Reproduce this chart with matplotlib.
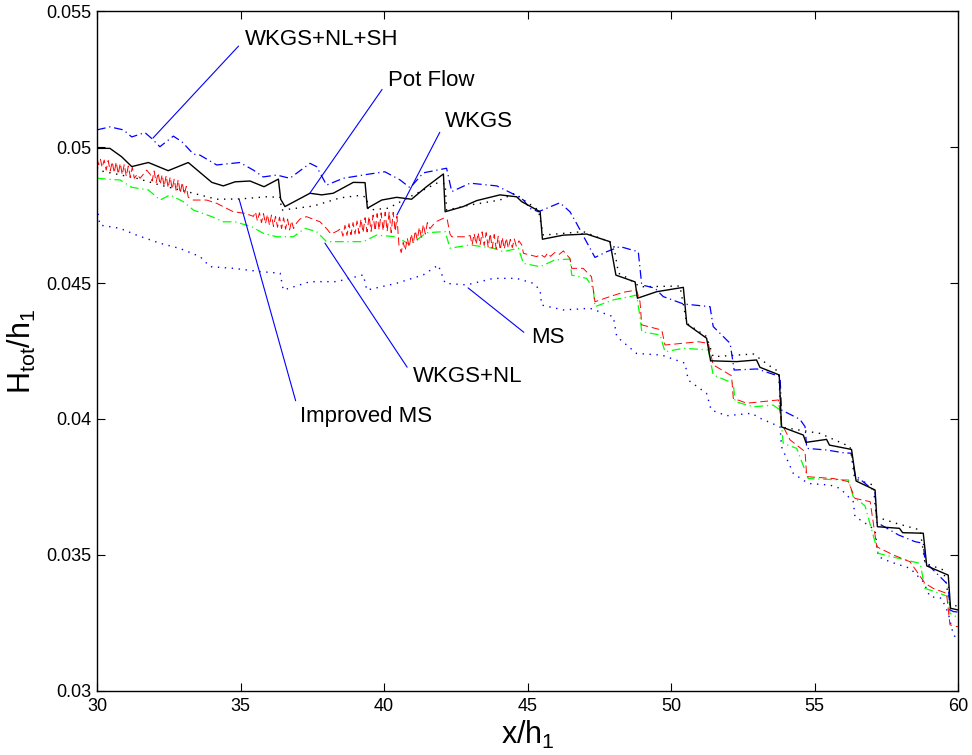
import matplotlib
matplotlib.use('Agg')
import matplotlib.pyplot as plt

plt.rcParams['font.family'] = ['Liberation Sans', 'DejaVu Sans']
plt.rcParams['mathtext.fontset'] = 'custom'
plt.rcParams['mathtext.rm'] = 'Liberation Sans'
plt.rcParams['mathtext.it'] = 'Liberation Sans'

# Pot Flow (black solid)
pot_x = [30.00, 30.45, 30.86, 31.21, 31.79, 32.48, 33.18, 34.00, 34.40, 34.81, 35.33, 35.82,
         36.32, 36.40, 36.55, 37.42, 37.83, 38.23, 38.93, 39.34, 39.42, 39.92, 40.44, 40.96,
         41.48, 42.07, 42.13, 42.76, 43.23, 44.04, 44.62, 44.80, 45.44, 45.52, 46.25, 47.06,
         47.87, 48.08, 48.75, 48.83, 49.50, 50.43, 50.55, 51.24, 51.38, 52.29, 52.98, 53.10,
         53.77, 53.85, 54.61, 54.70, 55.42, 55.52, 56.29, 56.45, 57.11, 57.19, 57.96, 58.07,
         58.79, 58.91, 59.66, 59.74, 60.00]
pot_y = [0.04995, 0.04995, 0.04964, 0.04928, 0.04943, 0.04913, 0.04943, 0.04870, 0.04857, 0.04872,
         0.04875, 0.04854, 0.04882, 0.04808, 0.04781, 0.04830, 0.04824, 0.04830, 0.04870, 0.04869,
         0.04775, 0.04805, 0.04815, 0.04808, 0.04854, 0.04901, 0.04762, 0.04781, 0.04803, 0.04824,
         0.04817, 0.04799, 0.04762, 0.04661, 0.04676, 0.04680, 0.04652, 0.04529, 0.04504, 0.04444,
         0.04468, 0.04484, 0.04349, 0.04297, 0.04214, 0.04211, 0.04217, 0.04190, 0.04162, 0.03971,
         0.03941, 0.03914, 0.03925, 0.03904, 0.03888, 0.03772, 0.03739, 0.03604, 0.03598, 0.03582,
         0.03580, 0.03460, 0.03426, 0.03304, 0.03298]

# WKGS (red, oscillating)
wkgs_x = [30.00, 30.06, 30.12, 30.18, 30.25, 30.32, 30.39, 30.46, 30.53, 30.60, 30.67, 30.74,
          30.81, 30.88, 30.95, 31.02, 31.09, 31.16, 31.23, 31.30, 31.40, 31.50, 31.73, 31.85,
          31.92, 31.99, 32.06, 32.13, 32.20, 32.27, 32.34, 32.41, 32.48, 32.55, 32.62, 32.69,
          32.76, 32.83, 32.90, 32.97, 33.04, 33.11, 33.18, 33.36, 33.82, 34.17, 34.75, 35.16,
          35.45, 35.52, 35.59, 35.66, 35.73, 35.80, 35.87, 35.94, 36.01, 36.08, 36.15, 36.22,
          36.29, 36.36, 36.43, 36.50, 36.57, 36.64, 36.71, 36.78, 36.85, 36.95, 37.07, 37.30,
          37.77, 38.00, 38.15, 38.35, 38.50, 38.57, 38.64, 38.71, 38.78, 38.85, 38.92, 38.99,
          39.06, 39.13, 39.20, 39.27, 39.34, 39.41, 39.48, 39.55, 39.62, 39.69, 39.76, 39.83,
          39.90, 39.97, 40.04, 40.11, 40.18, 40.25, 40.32, 40.39, 40.45, 40.52, 40.60, 40.67,
          40.74, 40.81, 40.88, 40.95, 41.02, 41.09, 41.16, 41.23, 41.30, 41.37, 41.44, 41.51,
          41.60, 41.80, 42.07, 42.20, 42.30, 42.36, 42.88, 43.00, 43.07, 43.14, 43.21, 43.28,
          43.35, 43.42, 43.49, 43.56, 43.63, 43.70, 43.77, 43.84, 43.91, 43.98, 44.05, 44.12,
          44.19, 44.26, 44.33, 44.40, 44.47, 44.54, 44.61, 44.70, 44.80, 44.86, 45.32, 45.45,
          45.60, 45.70, 45.80, 45.95, 46.10, 46.25, 46.48, 46.54, 46.94, 47.23, 47.35, 47.87,
          48.34, 48.80, 48.92, 48.98, 49.68, 49.79, 50.96, 51.30, 51.47, 52.11, 52.17, 52.64,
          53.74, 53.85, 54.15, 54.67, 54.73, 55.66, 56.18, 56.41, 56.94, 57.17, 57.75, 58.33,
          58.85, 59.14, 59.60, 59.72, 60.00]
wkgs_y = [0.04958, 0.04935, 0.04955, 0.04925, 0.04952, 0.04915, 0.04950, 0.04912, 0.04946, 0.04905,
          0.04945, 0.04900, 0.04940, 0.04898, 0.04936, 0.04892, 0.04930, 0.04890, 0.04925, 0.04885,
          0.04900, 0.04885, 0.04915, 0.04900, 0.04875, 0.04912, 0.04870, 0.04905, 0.04862, 0.04898,
          0.04855, 0.04895, 0.04850, 0.04890, 0.04845, 0.04882, 0.04838, 0.04880, 0.04830, 0.04870,
          0.04825, 0.04855, 0.04815, 0.04805, 0.04805, 0.04793, 0.04762, 0.04756, 0.04745, 0.04762,
          0.04728, 0.04758, 0.04722, 0.04755, 0.04718, 0.04752, 0.04712, 0.04750, 0.04708, 0.04745,
          0.04705, 0.04742, 0.04700, 0.04740, 0.04698, 0.04735, 0.04695, 0.04728, 0.04700, 0.04720,
          0.04735, 0.04744, 0.04725, 0.04700, 0.04680, 0.04690, 0.04700, 0.04672, 0.04712, 0.04675,
          0.04718, 0.04678, 0.04722, 0.04680, 0.04728, 0.04682, 0.04735, 0.04685, 0.04740, 0.04688,
          0.04745, 0.04690, 0.04750, 0.04692, 0.04755, 0.04695, 0.04758, 0.04692, 0.04760, 0.04690,
          0.04762, 0.04685, 0.04760, 0.04690, 0.04745, 0.04640, 0.04612, 0.04650, 0.04620, 0.04665,
          0.04632, 0.04680, 0.04645, 0.04692, 0.04658, 0.04705, 0.04668, 0.04715, 0.04680, 0.04722,
          0.04700, 0.04725, 0.04738, 0.04735, 0.04680, 0.04670, 0.04670, 0.04675, 0.04640, 0.04682,
          0.04642, 0.04685, 0.04640, 0.04688, 0.04638, 0.04685, 0.04632, 0.04682, 0.04628, 0.04678,
          0.04625, 0.04672, 0.04622, 0.04668, 0.04625, 0.04665, 0.04628, 0.04660, 0.04630, 0.04662,
          0.04635, 0.04655, 0.04640, 0.04609, 0.04597, 0.04605, 0.04595, 0.04610, 0.04598, 0.04612,
          0.04605, 0.04618, 0.04590, 0.04554, 0.04554, 0.04523, 0.04431, 0.04450, 0.04466, 0.04474,
          0.04431, 0.04346, 0.04327, 0.04272, 0.04284, 0.04278, 0.04199, 0.04159, 0.04076, 0.04058,
          0.04070, 0.03984, 0.03923, 0.03880, 0.03788, 0.03781, 0.03770, 0.03708, 0.03696, 0.03530,
          0.03500, 0.03475, 0.03396, 0.03377, 0.03359, 0.03243, 0.03236]

# WKGS+NL (green)
nl_x = [30.00, 30.45, 30.80, 31.21, 31.79, 32.20, 32.54, 33.01, 33.36, 34.00, 34.40, 34.81,
        35.39, 35.79, 36.26, 36.84, 37.25, 37.65, 38.00, 38.58, 39.28, 39.74, 40.44, 40.91,
        41.48, 42.13, 42.30, 43.00, 43.81, 44.16, 44.68, 44.86, 45.44, 45.96, 46.48, 46.54,
        47.06, 47.29, 47.35, 47.99, 48.57, 48.80, 48.92, 48.98, 49.62, 49.79, 50.43, 51.30,
        51.47, 52.17, 52.23, 52.87, 53.56, 53.80, 53.91, 54.38, 54.78, 55.42, 56.18, 56.35,
        56.76, 57.22, 57.92, 58.68, 58.85, 59.20, 59.66, 59.72, 60.00]
nl_y = [0.04885, 0.04881, 0.04879, 0.04852, 0.04842, 0.04805, 0.04824, 0.04799, 0.04768, 0.04744,
        0.04725, 0.04725, 0.04707, 0.04683, 0.04670, 0.04670, 0.04701, 0.04689, 0.04652, 0.04652,
        0.04652, 0.04676, 0.04670, 0.04640, 0.04685, 0.04689, 0.04628, 0.04640, 0.04628, 0.04615,
        0.04628, 0.04572, 0.04560, 0.04585, 0.04588, 0.04529, 0.04517, 0.04480, 0.04413, 0.04438,
        0.04450, 0.04456, 0.04376, 0.04321, 0.04309, 0.04247, 0.04260, 0.04254, 0.04162, 0.04131,
        0.04064, 0.04045, 0.04051, 0.04033, 0.03910, 0.03892, 0.03781, 0.03778, 0.03776, 0.03714,
        0.03681, 0.03506, 0.03488, 0.03469, 0.03377, 0.03365, 0.03347, 0.03285, 0.03270]

# WKGS+NL+SH (blue dash-dot)
sh_x = [30.00, 30.45, 30.92, 31.21, 31.67, 31.90, 32.19, 32.66, 32.95, 33.36, 33.59, 34.17,
        34.98, 35.45, 35.79, 36.26, 36.72, 37.42, 37.65, 38.00, 38.58, 39.45, 40.03, 40.56,
        40.91, 41.37, 42.18, 42.36, 43.00, 43.93, 44.45, 44.86, 45.09, 45.38, 46.13, 46.48,
        46.71, 47.35, 47.76, 48.22, 48.86, 48.98, 49.44, 49.73, 50.43, 51.36, 51.47, 52.06,
        52.20, 53.00, 53.80, 53.85, 54.49, 54.67, 54.73, 55.42, 56.00, 56.29, 56.41, 57.11,
        57.17, 57.92, 58.50, 58.79, 58.85, 59.66, 59.72, 59.84, 60.00]
sh_y = [0.05063, 0.05074, 0.05063, 0.05037, 0.05053, 0.05032, 0.05001, 0.05040, 0.05020, 0.04974,
        0.04970, 0.04934, 0.04943, 0.04915, 0.04890, 0.04897, 0.04885, 0.04940, 0.04928, 0.04860,
        0.04885, 0.04900, 0.04909, 0.04879, 0.04850, 0.04905, 0.04922, 0.04836, 0.04867, 0.04857,
        0.04830, 0.04805, 0.04774, 0.04762, 0.04795, 0.04762, 0.04719, 0.04594, 0.04615, 0.04634,
        0.04615, 0.04493, 0.04481, 0.04450, 0.04423, 0.04413, 0.04340, 0.04278, 0.04180, 0.04184,
        0.04156, 0.04033, 0.03999, 0.03972, 0.03892, 0.03886, 0.03876, 0.03874, 0.03794, 0.03733,
        0.03620, 0.03574, 0.03549, 0.03543, 0.03475, 0.03390, 0.03298, 0.03292, 0.03290]

# MS (blue dotted)
ms_x = [30.00, 30.10, 30.80, 31.38, 32.20, 32.89, 33.59, 33.94, 34.75, 35.68, 36.38, 36.49,
        37.42, 38.35, 39.28, 39.40, 40.44, 41.37, 41.89, 42.13, 42.88, 43.81, 44.62, 45.20,
        45.44, 45.49, 46.25, 47.18, 47.99, 48.11, 48.80, 49.68, 50.49, 50.60, 51.24, 51.40,
        51.94, 52.81, 53.10, 53.80, 53.85, 54.26, 54.78, 55.54, 55.89, 56.35, 56.41, 56.70,
        57.11, 57.22, 57.63, 58.33, 58.79, 59.02, 59.43, 59.66, 59.84, 60.00]
ms_y = [0.04780, 0.04713, 0.04701, 0.04676, 0.04646, 0.04627, 0.04597, 0.04560, 0.04554, 0.04542,
        0.04536, 0.04474, 0.04505, 0.04505, 0.04530, 0.04474, 0.04499, 0.04530, 0.04566, 0.04499,
        0.04493, 0.04517, 0.04517, 0.04499, 0.04474, 0.04419, 0.04401, 0.04407, 0.04376, 0.04303,
        0.04241, 0.04235, 0.04205, 0.04143, 0.04094, 0.04033, 0.04012, 0.04021, 0.04003, 0.03971,
        0.03898, 0.03800, 0.03763, 0.03757, 0.03745, 0.03696, 0.03641, 0.03622, 0.03592, 0.03494,
        0.03475, 0.03451, 0.03402, 0.03347, 0.03341, 0.03286, 0.03206, 0.03190]

# Improved MS (black dotted)
ims_x = [30.00, 30.10, 31.38, 32.20, 33.13, 34.17, 34.98, 35.91, 36.38, 36.43, 37.54, 38.47,
         39.16, 39.40, 39.45, 40.15, 40.79, 41.84, 42.13, 42.18, 43.00, 44.04, 44.56, 44.80,
         45.38, 45.55, 46.94, 47.99, 48.17, 48.51, 48.92, 50.31, 50.55, 51.24, 51.47, 52.87,
         53.56, 53.75, 53.85, 55.19, 56.24, 56.40, 57.05, 57.15, 57.86, 58.68, 58.85, 59.49,
         59.72, 60.00]
ims_y = [0.04925, 0.04913, 0.04885, 0.04860, 0.04836, 0.04808, 0.04809, 0.04817, 0.04815, 0.04768,
         0.04783, 0.04813, 0.04822, 0.04815, 0.04768, 0.04775, 0.04811, 0.04867, 0.04865, 0.04768,
         0.04787, 0.04805, 0.04830, 0.04810, 0.04768, 0.04676, 0.04689, 0.04646, 0.04536, 0.04517,
         0.04486, 0.04489, 0.04352, 0.04303, 0.04229, 0.04239, 0.04186, 0.04175, 0.03970, 0.03947,
         0.03898, 0.03780, 0.03757, 0.03640, 0.03616, 0.03592, 0.03470, 0.03445, 0.03322, 0.03310]

# annotation labels: (text, point on curve, text position)
labels = ['WKGS+NL+SH', 'Pot Flow', 'WKGS', 'MS', 'WKGS+NL', 'Improved MS']
label_xy = [(31.95, 0.05033), (37.42, 0.04831), (40.45, 0.04750),
            (42.93, 0.04482), (37.94, 0.04647), (34.95, 0.04809)]
label_text_xy = [(35.16, 0.05397), (40.14, 0.05243), (42.13, 0.05092),
                 (45.12, 0.04298), (41.01, 0.04158), (37.07, 0.04011)]

fig = plt.figure(figsize=(9.72, 7.55), dpi=100)
ax = fig.add_axes([0.0998, 0.0848, 0.8858, 0.9006])

ax.plot(ms_x, ms_y, color='blue', lw=1.0, linestyle=(0, (1, 4)))
ax.plot(ims_x, ims_y, color='black', lw=1.0, linestyle=(0, (1, 4)))
ax.plot(nl_x, nl_y, color='#00ff00', lw=0.9, linestyle=(0, (7, 3, 1, 3)))
ax.plot(sh_x, sh_y, color='blue', lw=0.9, linestyle=(0, (7, 3, 1, 3)))
ax.plot(wkgs_x, wkgs_y, color='red', lw=0.7, linestyle=(0, (8, 4)))
ax.plot(pot_x, pot_y, color='black', lw=1.0, linestyle='-')

for txt, xy, xyt in zip(labels, label_xy, label_text_xy):
    ax.annotate(txt, xy=xy, xytext=xyt, fontsize=16, ha='left', va='center',
                arrowprops=dict(arrowstyle='-', color='blue', lw=0.8,
                                shrinkA=4, shrinkB=0, relpos=(0, 0.5)))

ax.set_xlim(30, 60)
ax.set_ylim(0.03, 0.055)
ax.set_xticks([30, 35, 40, 45, 50, 55, 60])
ax.set_yticks([0.03, 0.035, 0.04, 0.045, 0.05, 0.055])
ax.set_yticklabels(['0.03', '0.035', '0.04', '0.045', '0.05', '0.055'])
ax.tick_params(direction='in', length=6, width=0.8, labelsize=13, top=True, right=True)
ax.tick_params(axis='x', pad=5)
ax.tick_params(axis='y', pad=4)
for s in ax.spines.values():
    s.set_linewidth(1.0)

ax.set_xlabel(r'$\mathregular{x/h_1}$', fontsize=22, labelpad=3)
ax.set_ylabel(r'$\mathregular{H_{tot}/h_1}$', fontsize=22, labelpad=6)

fig.savefig('out.png', dpi=100)
